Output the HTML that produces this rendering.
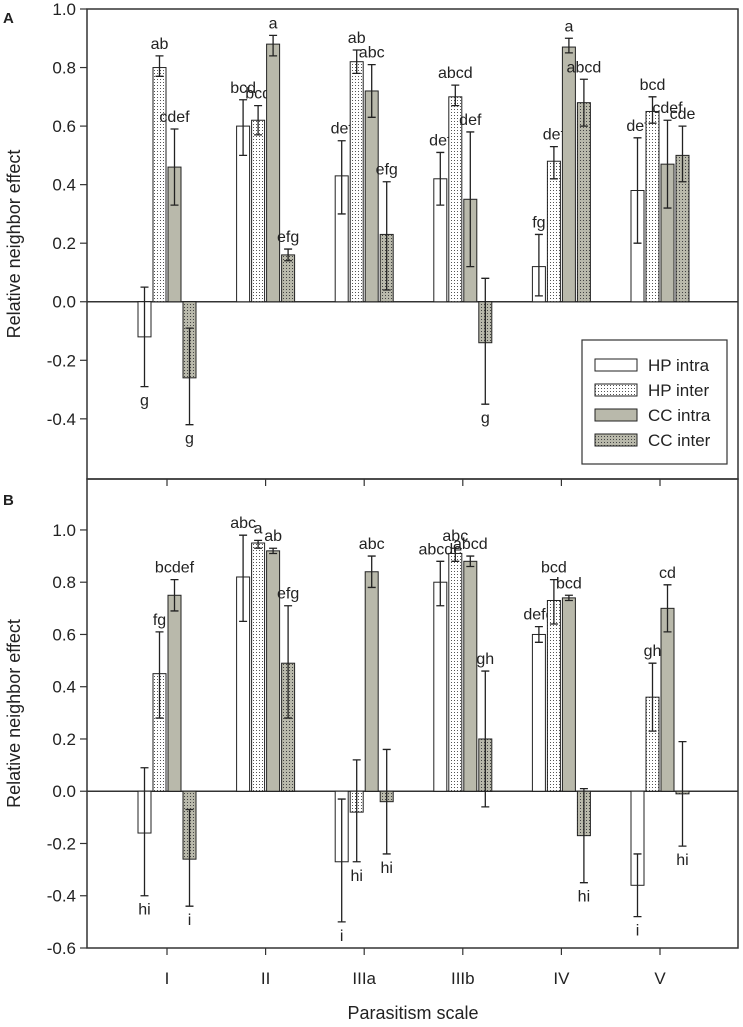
<!DOCTYPE html>
<html><head><meta charset="utf-8"><style>
html,body{margin:0;padding:0;background:#fff}
svg{display:block;font-family:"Liberation Sans",sans-serif}
</style></head><body>
<svg id="chart" width="743" height="1027" viewBox="0 0 743 1027">
<defs>
<pattern id="dotW" width="3" height="3" patternUnits="userSpaceOnUse"><rect width="3" height="3" fill="#fff"/><rect x="1" y="1" width="1" height="1" fill="#555"/></pattern>
<pattern id="dotG" width="3" height="3" patternUnits="userSpaceOnUse"><rect width="3" height="3" fill="#b9b9ab"/><rect x="1" y="1" width="1" height="1" fill="#444"/></pattern>
</defs>
<g id="root"></g>
</svg>
<script>
const categories = ["I","II","IIIa","IIIb","IV","V"];
const seriesNames = ["HP intra","HP inter","CC intra","CC inter"];
// Panel A
const aHPintra = [-0.12,0.60,0.43,0.42,0.12,0.38];
const aHPintraLo = [-0.29,0.50,0.30,0.33,0.02,0.20];
const aHPintraHi = [0.05,0.69,0.55,0.51,0.23,0.56];
const aHPintraLab = ["g","bcd","def","def","fg","def"];
const aHPinter = [0.80,0.62,0.82,0.70,0.48,0.65];
const aHPinterLo = [0.77,0.57,0.78,0.67,0.42,0.61];
const aHPinterHi = [0.84,0.67,0.86,0.74,0.53,0.70];
const aHPinterLab = ["ab","bcd","ab","abcd","def","bcd"];
const aCCintra = [0.46,0.88,0.72,0.35,0.87,0.47];
const aCCintraLo = [0.33,0.84,0.63,0.12,0.85,0.32];
const aCCintraHi = [0.59,0.91,0.81,0.58,0.90,0.62];
const aCCintraLab = ["cdef","a","abc","def","a","cdef"];
const aCCinter = [-0.26,0.16,0.23,-0.14,0.68,0.50];
const aCCinterLo = [-0.42,0.14,0.04,-0.35,0.60,0.41];
const aCCinterHi = [-0.09,0.18,0.41,0.08,0.76,0.60];
const aCCinterLab = ["g","efg","efg","g","abcd","cde"];
// Panel B
const bHPintra = [-0.16,0.82,-0.27,0.80,0.60,-0.36];
const bHPintraLo = [-0.40,0.65,-0.50,0.71,0.57,-0.48];
const bHPintraHi = [0.09,0.98,-0.03,0.88,0.63,-0.24];
const bHPintraLab = ["hi","abc","i","abcde","defg","i"];
const bHPinter = [0.45,0.95,-0.08,0.91,0.73,0.36];
const bHPinterLo = [0.28,0.93,-0.27,0.88,0.64,0.23];
const bHPinterHi = [0.61,0.96,0.12,0.93,0.81,0.49];
const bHPinterLab = ["fg","a","hi","abc","bcd","gh"];
const bCCintra = [0.75,0.92,0.84,0.88,0.74,0.70];
const bCCintraLo = [0.69,0.91,0.78,0.86,0.73,0.61];
const bCCintraHi = [0.81,0.93,0.90,0.90,0.75,0.79];
const bCCintraLab = ["bcdef","ab","abc","abcd","bcd","cd"];
const bCCinter = [-0.26,0.49,-0.04,0.20,-0.17,-0.01];
const bCCinterLo = [-0.44,0.28,-0.24,-0.06,-0.35,-0.21];
const bCCinterHi = [-0.07,0.71,0.16,0.46,0.01,0.19];
const bCCinterLab = ["i","efg","hi","gh","hi","hi"];
const aTicks = [-0.4,-0.2,0.0,0.2,0.4,0.6,0.8,1.0];
const bTicks = [-0.6,-0.4,-0.2,0.0,0.2,0.4,0.6,0.8,1.0];

const NS="http://www.w3.org/2000/svg";
const root=document.getElementById('root');
function mk(tag,attrs,parent){const e=document.createElementNS(NS,tag);for(const k in attrs)e.setAttribute(k,attrs[k]);(parent||root).appendChild(e);return e;}
const X0=87,X1=738;
const catX=i=>167+i*98.6;
const fills=["#fff","url(#dotW)","#b9b9ab","url(#dotG)"];

function panel(key,top,bottom,vMin,vMax,ticks,series,letter){
  const y=v=>top+(vMax-v)/(vMax-vMin)*(bottom-top);
  const g=mk('g',{});
  
  
  const frame=mk('rect',{x:X0,y:top,width:X1-X0,height:bottom-top,fill:'none',stroke:'#333','stroke-width':1.5},g);
  
  
  const zl=mk('line',{x1:X0,x2:X1,y1:y(0),y2:y(0),stroke:'#333','stroke-width':1.5},g);
  
  
  ticks.forEach(t=>{
    mk('line',{x1:X0-7,x2:X0,y1:y(t),y2:y(t),stroke:'#333','stroke-width':1.2},g);
    const tx=mk('text',{x:X0-11,y:y(t)+6,'text-anchor':'end','font-size':17,fill:'#222'},g);
    tx.textContent=t.toFixed(1);
    
    
  });
  categories.forEach((c,i)=>{
    mk('line',{x1:catX(i),x2:catX(i),y1:bottom,y2:bottom+7,stroke:'#333','stroke-width':1.2},g);
  });
  series.forEach((s,si)=>{
    s.v.forEach((v,i)=>{
      const bx=catX(i)-29+si*15;
      const r=mk('rect',{x:bx,y:Math.min(y(v),y(0)),width:13,height:Math.abs(y(v)-y(0)),fill:fills[si],stroke:'#222','stroke-width':1},g);
      
      
      const cx=bx+6.5;
      const e=mk('path',{d:`M${cx},${y(s.lo[i])}V${y(s.hi[i])}M${cx-4},${y(s.lo[i])}H${cx+4}M${cx-4},${y(s.hi[i])}H${cx+4}`,stroke:'#222','stroke-width':1.3,fill:'none'},g);
      
      
      const neg=v<0;
      const ly=neg?y(s.lo[i])+19:y(s.hi[i])-7;
      const t=mk('text',{x:cx,y:ly,'text-anchor':'middle','font-size':16,fill:'#222'},g);
      t.textContent=s.lab[i];
      
      
    });
  });
  const yt=mk('text',{x:20,y:(top+bottom)/2,'text-anchor':'middle','font-size':18,fill:'#222',transform:`rotate(-90 20 ${(top+bottom)/2})`},g);
  yt.textContent='Relative neighbor effect';
  
  
  const pl=mk('text',{x:3,y:top+(key==='a'?14:26),'font-size':15,'font-weight':'bold',fill:'#222'},g);
  pl.textContent=letter;
  
  
}
panel('a',9,479,-0.6055,1.0,aTicks,[
 {v:aHPintra,lo:aHPintraLo,hi:aHPintraHi,lab:aHPintraLab},
 {v:aHPinter,lo:aHPinterLo,hi:aHPinterHi,lab:aHPinterLab},
 {v:aCCintra,lo:aCCintraLo,hi:aCCintraHi,lab:aCCintraLab},
 {v:aCCinter,lo:aCCinterLo,hi:aCCinterHi,lab:aCCinterLab}],'A');
panel('b',479,948,-0.6,1.195,bTicks,[
 {v:bHPintra,lo:bHPintraLo,hi:bHPintraHi,lab:bHPintraLab},
 {v:bHPinter,lo:bHPinterLo,hi:bHPinterHi,lab:bHPinterLab},
 {v:bCCintra,lo:bCCintraLo,hi:bCCintraHi,lab:bCCintraLab},
 {v:bCCinter,lo:bCCinterLo,hi:bCCinterHi,lab:bCCinterLab}],'B');

categories.forEach((c,i)=>{
  const t=mk('text',{x:catX(i),y:984,'text-anchor':'middle','font-size':17,fill:'#222'});
  t.textContent=c;
  
  
});
const xt=mk('text',{x:413,y:1019,'text-anchor':'middle','font-size':18,fill:'#222'});
xt.textContent='Parasitism scale';



const lg=mk('g',{});


mk('rect',{x:582,y:340,width:145,height:124,fill:'#fff',stroke:'#333','stroke-width':1.2},lg);
seriesNames.forEach((n,i)=>{
  const ey=365+i*25;
  const sw=mk('rect',{x:595,y:ey-6,width:42,height:12,fill:fills[i],stroke:'#222','stroke-width':1},lg);
  
  
  const t=mk('text',{x:648,y:ey+6,'font-size':17,fill:'#222'},lg);
  t.textContent=n;
  
  
});
</script>
</body></html>
